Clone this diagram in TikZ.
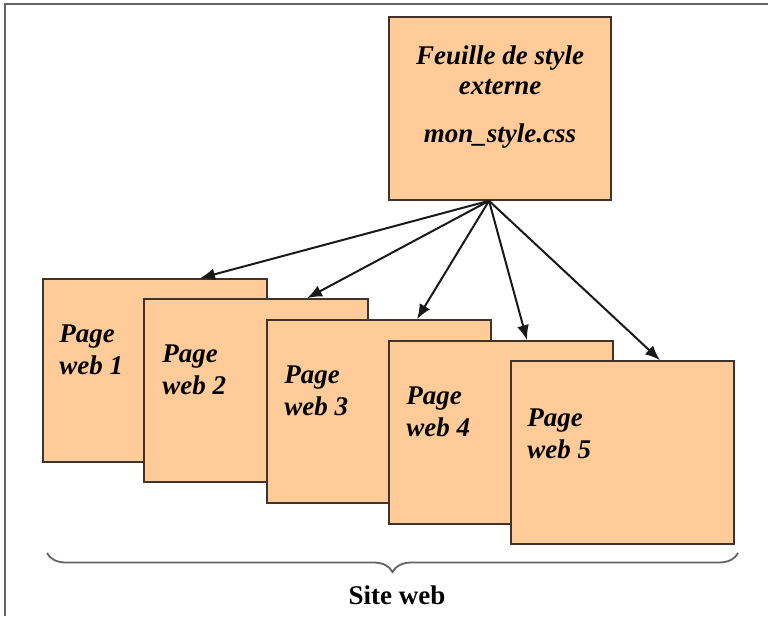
\documentclass[tikz,border=0pt]{standalone}
\usepackage{fontspec}
\setmainfont{Liberation Serif}
\usepackage{tikz}
\usetikzlibrary{arrows.meta,calc,decorations.pathreplacing}
\definecolor{pgpeach}{RGB}{255,204,153}
\definecolor{pgedge}{RGB}{66,50,40}
\definecolor{pggray}{RGB}{100,100,100}
\tikzstyle{arrow} = [line width=2pt,-{Latex[length=15pt,width=12pt]},color=black!90]
\tikzstyle{pagebox} = [rectangle, minimum width=224pt, minimum height=183pt, draw=pgedge, fill=pgpeach, line width=1.6pt, inner sep=0pt]
\tikzstyle{pagelabel} = [anchor=north west, align=left, inner sep=0pt, font=\fontsize{27}{32}\selectfont\bfseries\itshape]

\begin{document}
\begin{tikzpicture}[x=1pt,y=1pt]
\useasboundingbox (0,0) rectangle (768,-616);

% Frame
\coordinate (fbl) at (5,-616);
\coordinate (ftl) at (5,-4);
\coordinate (ftr) at (768,-4);
\draw[pggray, line width=2.2pt] (fbl) -- (ftl) -- (ftr);

% Style sheet
\node[pagebox, minimum width=222pt] (css) at (500,-108.5) {};
\node[anchor=north, align=center, inner sep=0pt, font=\fontsize{27}{30}\selectfont\bfseries\itshape] (csstext) at ($(css.north)+(0,-29)$) {
Feuille de style\\
externe\\[18pt]
mon\_style.css
};

% Pages
\node[pagebox] (page1) at (155,-370.5) {};
\node[pagelabel] (label1) at ($(page1.north west)+(17,-46)$) {Page\\web 1};

\node[pagebox] (page2) at (256,-390.5) {};
\node[pagelabel] (label2) at ($(page2.north west)+(19,-46)$) {Page\\web 2};

\node[pagebox] (page3) at (379,-411.5) {};
\node[pagelabel] (label3) at ($(page3.north west)+(18,-46)$) {Page\\web 3};

\node[pagebox] (page4) at (501,-432.5) {};
\node[pagelabel] (label4) at ($(page4.north west)+(18,-46)$) {Page\\web 4};

\node[pagebox, minimum width=223pt] (page5) at (622.5,-452.5) {};
\node[pagelabel] (label5) at ($(page5.north west)+(17,-48)$) {Page\\web 5};

% Links
\coordinate (src) at ($(css.south)+(-11,0)$);
\draw[arrow] (src) -- ($(page1.north)+(45,0)$);
\draw[arrow] (src) -- ($(page2.north)+(51,0)$);
\draw[arrow] (src) -- ($(page3.north)+(38,0)$);
\draw[arrow] (src) -- ($(page4.north)+(26,0)$);
\draw[arrow] (src) -- ($(page5.north)+(37.5,0)$);

% Site
\coordinate (bl) at (47,-553);
\coordinate (br) at (738,-553);
\draw[decorate, decoration={brace,mirror,amplitude=19pt}, pggray, line width=1.8pt] (bl) -- (br);
\node[anchor=base, inner sep=0pt, font=\fontsize{27}{30}\selectfont\bfseries] (site) at (397,-604) {Site web};
\end{tikzpicture}
\end{document}
